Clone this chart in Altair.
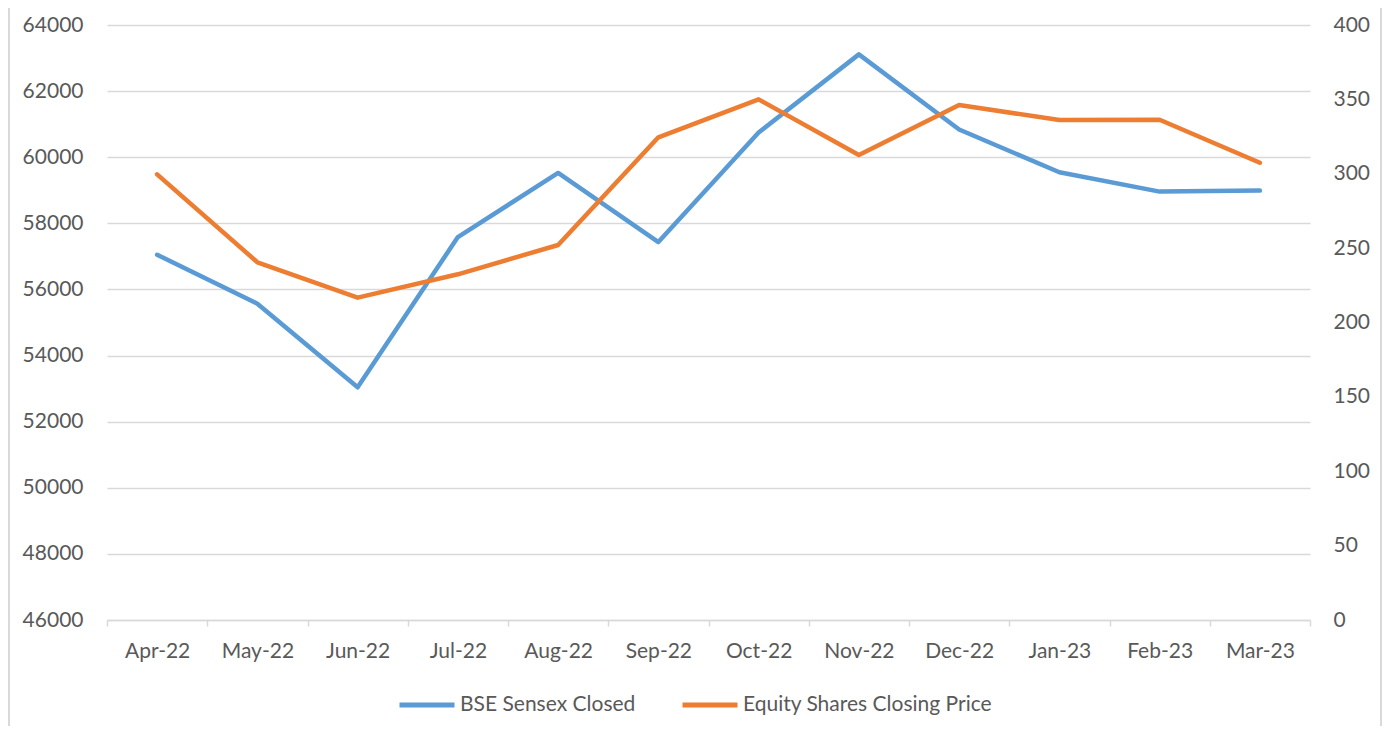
import altair as alt
import pandas as pd

months = ["Apr-22", "May-22", "Jun-22", "Jul-22", "Aug-22", "Sep-22",
          "Oct-22", "Nov-22", "Dec-22", "Jan-23", "Feb-23", "Mar-23"]
sensex = [57050, 55567, 53040, 57585, 59525, 57434,
          60748, 63112, 60839, 59545, 58960, 58990]
equity = [299.6, 240.5, 216.7, 232.4, 252.1, 324.5,
          350.0, 312.6, 346.2, 336.1, 336.3, 307.4]
series_names = ["BSE Sensex Closed", "Equity Shares Closing Price"]
series_colors = ["#5b9bd5", "#ed7d31"]
left_ticks = list(range(46000, 64001, 2000))
right_ticks = list(range(0, 401, 50))

df = pd.DataFrame({"Month": months, series_names[0]: sensex, series_names[1]: equity})

FONT = "Lato"
LABEL = "#595959"
GRID = "#d9d9d9"
W, H = 1203, 595
PAD = {"left": 99, "top": 17, "right": 72, "bottom": 106}

base = alt.Chart(df).transform_fold(series_names, as_=["series", "value"])

xenc = alt.X("Month:N", sort=months, title=None,
             scale=alt.Scale(paddingInner=0, paddingOuter=0),
             axis=alt.Axis(labelAngle=0, tickBand="extent", ticks=True, tickSize=6,
                           tickColor=GRID, tickWidth=1.5, domainColor=GRID, domainWidth=1.5,
                           labelPadding=14, grid=False))

color = alt.Color("series:N", scale=alt.Scale(domain=series_names, range=series_colors),
                  title=None,
                  legend=alt.Legend(orient="none", legendX=290, legendY=650, direction="horizontal",
                                    symbolType="stroke", symbolSize=3025, symbolStrokeWidth=5,
                                    labelFont=FONT, labelFontSize=21, labelColor=LABEL,
                                    labelOffset=3, columnPadding=36, labelLimit=400))

left = base.transform_filter(alt.datum.series == series_names[0]).mark_line(
    strokeWidth=4.5, strokeCap="round", strokeJoin="round").encode(
    x=xenc,
    y=alt.Y("value:Q", title=None,
            scale=alt.Scale(domain=[46000, 64000], nice=False, zero=False),
            axis=alt.Axis(orient="left", values=left_ticks, format="d", grid=True,
                          gridColor=GRID, gridWidth=1.5, ticks=False, domain=False,
                          labelPadding=24)),
    color=color,
)

right = base.transform_filter(alt.datum.series == series_names[1]).mark_line(
    strokeWidth=4.5, strokeCap="round", strokeJoin="round").encode(
    x=xenc,
    y=alt.Y("value:Q", title=None,
            scale=alt.Scale(domain=[0, 400], nice=False),
            axis=alt.Axis(orient="right", values=right_ticks, format="d", grid=False,
                          ticks=False, domain=False, labelPadding=23)),
    color=color,
)

border_df = pd.DataFrame({"b": [0]})
border_l = alt.Chart(border_df).mark_rule(color=GRID, strokeWidth=2).encode(
    x=alt.value(-PAD["left"] + 1), y=alt.value(-PAD["top"]), y2=alt.value(H + PAD["bottom"]))
border_r = alt.Chart(border_df).mark_rule(color=GRID, strokeWidth=2).encode(
    x=alt.value(W + PAD["right"] - 1), y=alt.value(-PAD["top"]), y2=alt.value(H + PAD["bottom"]))

chart = alt.layer(left, right, border_l, border_r).resolve_scale(y="independent").properties(
    width=W, height=H, padding=PAD,
    autosize=alt.AutoSizeParams(type="none"),
).configure_view(stroke=None).configure_axis(
    labelFont=FONT, labelFontSize=21, labelColor=LABEL
)

chart.save("out.html", embed_options={"renderer": "svg", "actions": False})
